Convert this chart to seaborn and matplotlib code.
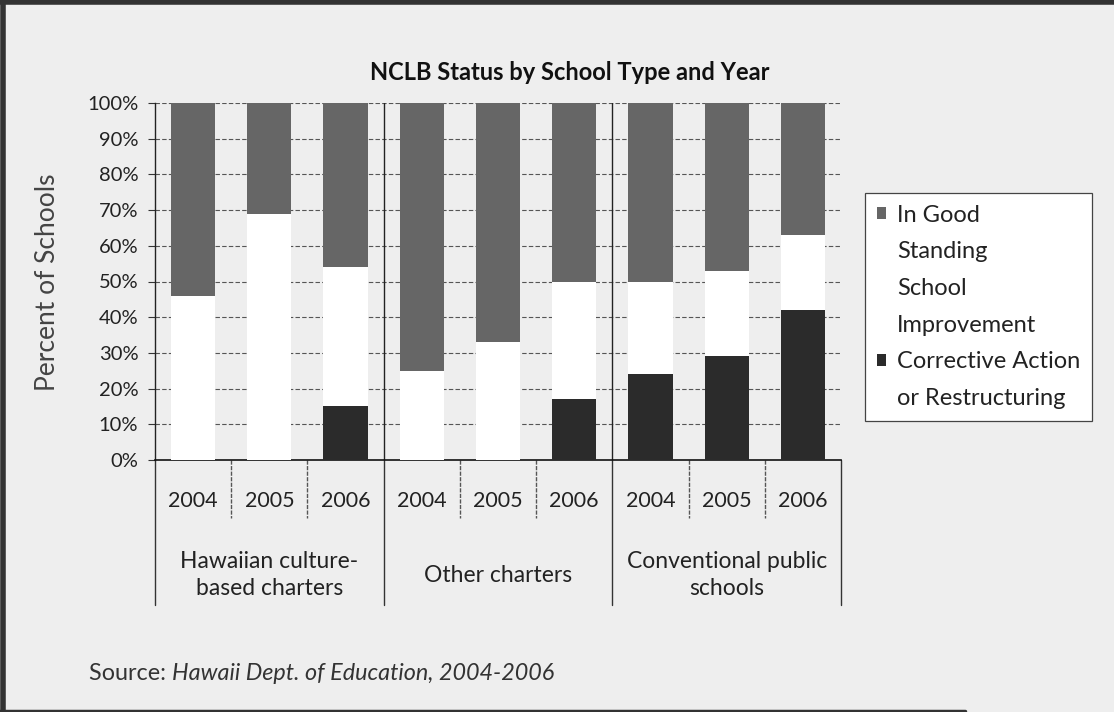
import matplotlib
matplotlib.use("Agg")
import matplotlib.pyplot as plt
import matplotlib.transforms as mtransforms
from matplotlib.patches import Patch
from matplotlib.lines import Line2D
import seaborn as sns
import pandas as pd

# School types and years shown on the category axis
groups = ["Hawaiian culture-\nbased charters", "Other charters", "Conventional public\nschools"]
years = ["2004", "2005", "2006"]

# Share of schools in each NCLB status (percent), in group/year order
good_standing = [54, 31, 46, 75, 67, 50, 50, 47, 37]
improvement = [46, 69, 39, 25, 33, 33, 26, 24, 21]
corrective = [0, 0, 15, 0, 0, 17, 24, 29, 42]

series_names = ["In Good\nStanding", "School\nImprovement", "Corrective Action\nor Restructuring"]
series_colors = ["#666666", "#ffffff", "#2b2b2b"]

BG = "#eeeeee"
FONT = ["Lato", "DejaVu Sans"]

sns.set_theme(style="white")
plt.rcParams["font.family"] = FONT

keys = [f"{g}|{y}" for g in groups for y in years]
df = pd.DataFrame({
    "key": keys,
    "good": good_standing,
    "improve": improvement,
    "corrective": corrective,
})
# cumulative heights for stacking: draw tallest first, then overlay
df["total"] = df["good"] + df["improve"] + df["corrective"]
df["lower_two"] = df["improve"] + df["corrective"]

W, H = 1114, 712
fig = plt.figure(figsize=(W / 100, H / 100), dpi=100, facecolor=BG)
L, R, T, B = 155, 841, 103, 460
ax = fig.add_axes([L / W, 1 - B / H, (R - L) / W, (B - T) / H])
ax.set_facecolor(BG)

bw = 0.58
sns.barplot(data=df, x="key", y="total", order=keys, color=series_colors[0],
            width=bw, saturation=1, ax=ax, zorder=2, linewidth=0)
sns.barplot(data=df, x="key", y="lower_two", order=keys, color=series_colors[1],
            width=bw, saturation=1, ax=ax, zorder=3, linewidth=0)
sns.barplot(data=df, x="key", y="corrective", order=keys, color=series_colors[2],
            width=bw, saturation=1, ax=ax, zorder=4, linewidth=0)

ax.set_xlim(-0.5, len(keys) - 0.5)
ax.set_ylim(0, 100)
ax.set_yticks(range(0, 101, 10))
ax.set_yticklabels([f"{v}%" for v in range(0, 101, 10)], fontsize=14.5, color="#222222")
ax.set_xticks([])
ax.set_xlabel("")
ax.set_ylabel("")
ax.tick_params(axis="y", direction="out", length=5, width=0.8, color="#333333", pad=7, left=True)

# dashed horizontal gridlines
for v in range(10, 101, 10):
    ax.axhline(v, color="#555555", lw=0.8, ls=(0, (4, 2)), zorder=1)

for side in ["top", "right"]:
    ax.spines[side].set_visible(False)
ax.spines["left"].set_color("#222222")
ax.spines["left"].set_linewidth(1.0)
ax.spines["bottom"].set_color("#111111")
ax.spines["bottom"].set_linewidth(1.2)

# vertical separators between school types inside the plot
for xb in [2.5, 5.5]:
    ax.axvline(xb, color="#222222", lw=1.0, zorder=1.5)

# category table below the axis
trans = mtransforms.blended_transform_factory(ax.transData, ax.transAxes)
h_px = B - T
year_y = -(501 - B) / h_px
group_y = -(575 - B) / h_px
year_line = -(518 - B) / h_px
group_line = -(605 - B) / h_px

for i, k in enumerate(keys):
    ax.text(i, year_y, k.split("|")[1], transform=trans, ha="center", va="center",
            fontsize=15.5, color="#222222")
for gi, g in enumerate(groups):
    ax.text(gi * 3 + 1, group_y, g, transform=trans, ha="center", va="center",
            fontsize=16.5, color="#222222", linespacing=1.4)

for i in range(len(keys) + 1):
    xb = i - 0.5
    if i % 3 == 0:
        ax.add_line(Line2D([xb, xb], [0, group_line], transform=trans, color="#333333",
                           lw=1.0, clip_on=False))
    else:
        ax.add_line(Line2D([xb, xb], [0, year_line], transform=trans, color="#555555",
                           lw=1.0, ls=(0, (3, 1)), clip_on=False))

# title, axis label and source note
fig.text(570 / W, 1 - 73 / H, "NCLB Status by School Type and Year", ha="center", va="center",
         fontsize=17, fontweight="bold", color="#111111")
fig.text(48 / W, 1 - 282 / H, "Percent of Schools", rotation=90, ha="center", va="center",
         fontsize=19, color="#444444")
src = fig.text(89 / W, 1 - 673 / H, "Source: ", ha="left", va="center", fontsize=16.8,
               color="#333333")
ax.annotate("Hawaii Dept. of Education, 2004-2006", xy=(1, 0.5), xycoords=src,
            ha="left", va="center", fontsize=16.8, fontstyle="italic", color="#333333",
            annotation_clip=False)

# legend: one row per text line, with the swatch on the first line of each entry
blank = Patch(facecolor="none", edgecolor="none")
handles, labels = [], []
for name, color in zip(series_names, series_colors):
    lines = name.split("\n")
    handles.append(Patch(facecolor=color, edgecolor="none"))
    labels.append(lines[0])
    for extra in lines[1:]:
        handles.append(blank)
        labels.append(extra)

leg = fig.legend(handles, labels, loc="upper left",
                 bbox_to_anchor=(865 / W, 1 - 193 / H), bbox_transform=fig.transFigure,
                 borderaxespad=0, frameon=True, fancybox=False, edgecolor="#444444",
                 facecolor="white", fontsize=17, handlelength=0.4, handleheight=0.4,
                 handletextpad=0.45, labelspacing=0.66, borderpad=0.5, framealpha=1)
leg.get_frame().set_linewidth(0.9)
for t in leg.get_texts():
    t.set_color("#222222")

# scanned page frame
fig.add_artist(Line2D([0, 1], [1 - 2 / H, 1 - 2 / H], transform=fig.transFigure,
                      color="#333333", lw=4))
fig.add_artist(Line2D([3 / W, 3 / W], [0, 1], transform=fig.transFigure,
                      color="#333333", lw=4))
fig.add_artist(Line2D([0, 965 / W], [1 / H, 1 / H], transform=fig.transFigure,
                      color="#333333", lw=2.5))

fig.savefig("out.png", dpi=100, facecolor=BG)
